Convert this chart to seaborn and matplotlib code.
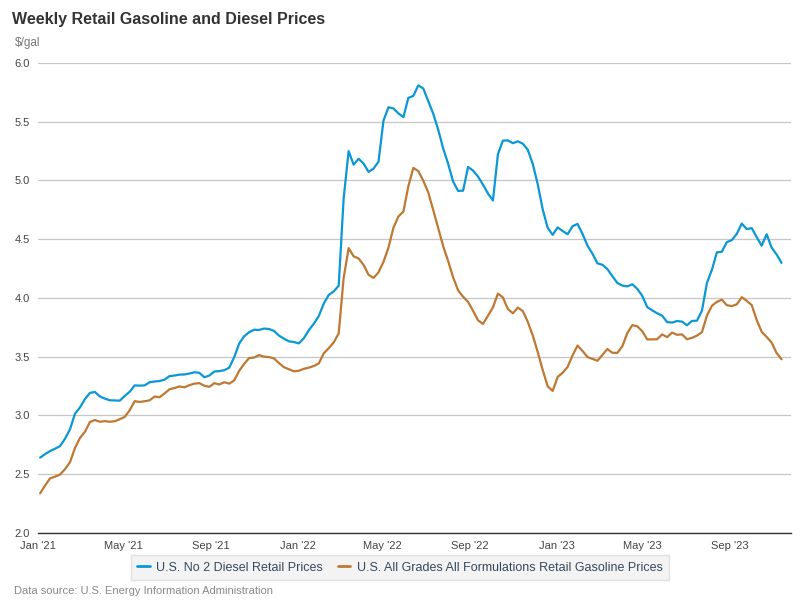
import pandas as pd
import matplotlib
matplotlib.use("Agg")
import matplotlib.pyplot as plt
import matplotlib.dates as mdates
from matplotlib.lines import Line2D
import seaborn as sns

# weekly prices, $/gal (Mondays, Jan 4 2021 .. Nov 13 2023)
diesel_2021 = [2.640, 2.670, 2.696, 2.716, 2.738, 2.801, 2.881, 3.014,
               3.067, 3.138, 3.191, 3.199, 3.161, 3.143, 3.128, 3.127, 3.125,
               3.165, 3.201, 3.255, 3.253, 3.255, 3.282, 3.288, 3.292, 3.304,
               3.334, 3.339, 3.347, 3.348, 3.356, 3.367, 3.362, 3.324, 3.339,
               3.373, 3.377, 3.384, 3.406, 3.495, 3.611, 3.673, 3.708,
               3.729, 3.727, 3.739, 3.735, 3.719, 3.679, 3.653, 3.630, 3.624]
diesel_2022 = [3.613, 3.657, 3.725, 3.780, 3.846, 3.951, 4.025, 4.055, 4.104,
               4.849, 5.250, 5.134, 5.185, 5.144, 5.073, 5.101, 5.160,
               5.509, 5.623, 5.613, 5.571, 5.539, 5.703, 5.720, 5.810, 5.783,
               5.675, 5.568, 5.432, 5.272, 5.141, 4.990, 4.911, 4.913, 5.115,
               5.084, 5.033, 4.964, 4.889, 4.829, 5.224, 5.339, 5.341, 5.317,
               5.333, 5.313, 5.261, 5.141, 4.967, 4.754, 4.596, 4.537]
diesel_2023 = [4.600, 4.570, 4.542, 4.610, 4.630, 4.545, 4.445, 4.376, 4.294,
               4.282, 4.245, 4.185, 4.127, 4.105, 4.098, 4.116, 4.077,
               4.018, 3.922, 3.894, 3.869, 3.849, 3.794, 3.790, 3.803, 3.798,
               3.767, 3.804, 3.806, 3.891, 4.127, 4.239, 4.388, 4.393, 4.475,
               4.492, 4.545, 4.633, 4.586, 4.594, 4.518, 4.444, 4.542, 4.428,
               4.370, 4.298]

gas_2021 = [2.336, 2.403, 2.464, 2.478, 2.496, 2.542, 2.601, 2.722,
            2.807, 2.860, 2.943, 2.960, 2.945, 2.951, 2.945, 2.950, 2.967,
            2.987, 3.044, 3.121, 3.114, 3.120, 3.128, 3.160, 3.154, 3.186,
            3.222, 3.233, 3.246, 3.239, 3.257, 3.270, 3.274, 3.252, 3.243,
            3.274, 3.263, 3.282, 3.270, 3.297, 3.379, 3.438, 3.488,
            3.492, 3.513, 3.500, 3.496, 3.484, 3.445, 3.410, 3.392, 3.375]
gas_2022 = [3.380, 3.396, 3.406, 3.420, 3.442, 3.528, 3.572, 3.621, 3.698,
            4.171, 4.424, 4.354, 4.336, 4.281, 4.197, 4.170, 4.218,
            4.307, 4.428, 4.597, 4.693, 4.735, 4.951, 5.107, 5.080, 4.998,
            4.898, 4.748, 4.594, 4.440, 4.313, 4.174, 4.064, 4.010, 3.966,
            3.890, 3.810, 3.778, 3.848, 3.919, 4.037, 4.004, 3.905, 3.869,
            3.917, 3.888, 3.796, 3.680, 3.539, 3.387, 3.247, 3.208]
gas_2023 = [3.327, 3.362, 3.412, 3.511, 3.594, 3.548, 3.496, 3.481, 3.465,
            3.514, 3.565, 3.533, 3.532, 3.588, 3.700, 3.768, 3.758,
            3.717, 3.647, 3.647, 3.648, 3.689, 3.666, 3.705, 3.686, 3.689,
            3.648, 3.660, 3.679, 3.708, 3.849, 3.933, 3.966, 3.985, 3.938,
            3.930, 3.945, 4.006, 3.975, 3.939, 3.813, 3.712, 3.668, 3.620,
            3.531, 3.478]

diesel = diesel_2021 + diesel_2022 + diesel_2023
gasoline = gas_2021 + gas_2022 + gas_2023
weeks = pd.date_range("2021-01-04", periods=len(diesel), freq="7D")

diesel_name = "U.S. No 2 Diesel Retail Prices"
gas_name = "U.S. All Grades All Formulations Retail Gasoline Prices"

df = pd.concat([
    pd.DataFrame({"week": weeks, "price": diesel, "series": diesel_name}),
    pd.DataFrame({"week": weeks, "price": gasoline, "series": gas_name}),
])

sns.set_style("white")
plt.rcParams["font.family"] = ["Liberation Sans", "DejaVu Sans"]

blue = "#0a97d6"
brown = "#bf7832"

fig = plt.figure(figsize=(8, 6), dpi=100)
ax = fig.add_axes([0.0475, 0.112, 0.941, 0.783])

sns.lineplot(data=df, x="week", y="price", hue="series",
             palette={diesel_name: blue, gas_name: brown},
             linewidth=1.6, legend=False, ax=ax)

ax.set_ylim(2.0, 6.0)
ax.set_yticks([2.0, 2.5, 3.0, 3.5, 4.0, 4.5, 5.0, 5.5, 6.0])
ax.set_yticklabels([f"{v:.1f}" for v in ax.get_yticks()])
ax.set_xlim(pd.Timestamp("2021-01-01"), pd.Timestamp("2023-11-26"))
ax.xaxis.set_major_locator(mdates.MonthLocator(bymonth=[1, 5, 9]))
ax.xaxis.set_major_formatter(mdates.DateFormatter("%b '%y"))

ax.yaxis.grid(True, color="#c6c6c6", linewidth=0.9)
ax.xaxis.grid(False)
ax.set_axisbelow(True)
for side in ["top", "right", "left"]:
    ax.spines[side].set_visible(False)
ax.spines["bottom"].set_color("#333333")
ax.spines["bottom"].set_linewidth(1.0)

ax.tick_params(axis="y", length=0, pad=6, labelsize=8, labelcolor="#444444")
ax.tick_params(axis="x", length=5, width=0.8, color="#333333", pad=1,
               labelsize=8, labelcolor="#444444")
ax.set_xlabel("")
ax.set_ylabel("")

fig.text(0.015, 0.968, "Weekly Retail Gasoline and Diesel Prices",
         fontsize=11.5, fontweight="bold", color="#333333", va="center")
fig.text(0.018, 0.928, r"\$/gal", fontsize=8.5, color="#777777", va="center")
fig.text(0.018, 0.015, "Data source: U.S. Energy Information Administration",
         fontsize=8, color="#888888", va="center")

handles = [Line2D([], [], color=blue, linewidth=2),
           Line2D([], [], color=brown, linewidth=2)]
leg = fig.legend(handles, [diesel_name, gas_name], loc="center",
                 bbox_to_anchor=(0.5, 0.054), ncol=2, fontsize=9,
                 frameon=True, fancybox=False, handlelength=1.0,
                 handletextpad=0.5, columnspacing=1.2, borderpad=0.55)
leg.get_frame().set_facecolor("#f0f0f0")
leg.get_frame().set_edgecolor("#dddddd")
for t in leg.get_texts():
    t.set_color("#34495e")

fig.savefig("out.png", dpi=100)
